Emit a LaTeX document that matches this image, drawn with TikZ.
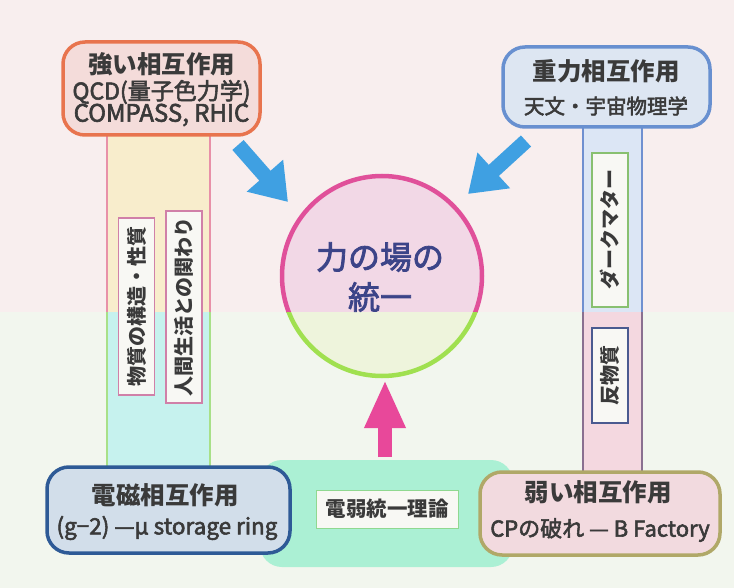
\documentclass[tikz,border=0pt]{standalone}
\usepackage{fontspec}
\newfontfamily\jp{Noto Sans CJK JP}
\newfontfamily\jpm{Noto Sans CJK JP}[FakeBold=2.5]
\usetikzlibrary{arrows.meta}
\definecolor{bgtop}{HTML}{F8EEEE}
\definecolor{bgbot}{HTML}{F2F6EE}
\definecolor{txt}{HTML}{3A3A3A}
\definecolor{unitxt}{HTML}{3C4488}
\definecolor{colyel}{HTML}{F8EDCC}
\definecolor{colcyan}{HTML}{C6F2EE}
\definecolor{colpinkline}{HTML}{E890A8}
\definecolor{colgreenline}{HTML}{A8E088}
\definecolor{colblue}{HTML}{DCE6F5}
\definecolor{colblueline}{HTML}{7090D0}
\definecolor{colpink}{HTML}{F4D8E0}
\definecolor{colpurpline}{HTML}{8A7090}
\definecolor{strongline}{HTML}{E8744E}
\definecolor{strongfill}{HTML}{F4DCDA}
\definecolor{gravline}{HTML}{6890D0}
\definecolor{gravfill}{HTML}{DDE6F2}
\definecolor{emline}{HTML}{2E5A96}
\definecolor{emfill}{HTML}{D2DEEA}
\definecolor{weakline}{HTML}{B0A868}
\definecolor{weakfill}{HTML}{F2DADF}
\definecolor{ewfill}{HTML}{ABF0D4}
\definecolor{ewlabline}{HTML}{90D890}
\definecolor{labfill}{HTML}{F8F8F4}
\definecolor{labpink}{HTML}{D080A8}
\definecolor{labgreen}{HTML}{88C070}
\definecolor{labblue}{HTML}{4A5A90}
\definecolor{unipink}{HTML}{E0509A}
\definecolor{unigreen}{HTML}{A0E050}
\definecolor{unifilltop}{HTML}{F2D8E6}
\definecolor{unifillbot}{HTML}{EEF4DC}
\definecolor{bluearrow}{HTML}{3FA0E2}
\definecolor{magarrow}{HTML}{E8489A}
\tikzset{
  ibox/.style={rounded corners=22pt, line width=3.5pt, align=center, inner sep=0pt, text=txt},
  vlab/.style={rotate=90, line width=1.2pt, fill=labfill, inner sep=0pt, minimum height=36pt, text=txt, font=\jp\bfseries\fontsize{20}{20}\selectfont},
  bluefat/.style={draw=bluearrow, line width=15pt, -{Triangle[length=35pt, width=46pt]}},
  magfat/.style={draw=magarrow, line width=14pt, -{Triangle[length=48pt, width=38pt]}},
  big/.style={text=txt, font=\jp\bfseries\fontsize{24.5}{26}\selectfont},
  sub/.style={text=txt, font=\jpm\fontsize{#1}{26}\selectfont}
}
\begin{document}
\begin{tikzpicture}[x=1pt, y=-1pt, font=\jp]
\useasboundingbox (0,0) rectangle (734,588);
\fill[bgtop] (0,0) rectangle (734,312);
\fill[bgbot] (0,312) rectangle (734,588);

% left column
\fill[colyel] (107,135) rectangle (210,312);
\fill[colcyan] (107,312) rectangle (210,467);
\draw[colpinkline, line width=1.2pt] (107,135) -- (107,312) (210,135) -- (210,312);
\draw[colgreenline, line width=1.2pt] (107,312) -- (107,467) (210,312) -- (210,467);
\node[vlab, draw=labpink, minimum width=177pt] (lab1) at (136.5,306.5) {物質の構造・性質};
\node[vlab, draw=labpink, minimum width=192pt] (lab2) at (184,307) {人間生活との関わり};

% right column
\fill[colblue] (583,128) rectangle (642,312);
\fill[colpink] (583,312) rectangle (642,472);
\draw[colblueline, line width=1.2pt] (583,128) -- (583,312) (642,128) -- (642,312);
\draw[colpurpline, line width=1.2pt] (583,312) -- (583,472) (642,312) -- (642,472);
\node[vlab, draw=labgreen, minimum width=154pt] (lab3) at (610,230) {ダークマター};
\node[vlab, draw=labblue, minimum width=95pt] (lab4) at (610,375.5) {反物質};

% central circle
\node[circle, minimum size=200pt, inner sep=0pt] (uni) at (382,276) {};
\begin{scope}
  \clip (270,160) rectangle (500,312);
  \fill[unifilltop] (uni.center) circle (100);
  \draw[unipink, line width=4.5pt] (uni.center) circle (100);
\end{scope}
\begin{scope}
  \clip (270,312) rectangle (500,390);
  \fill[unifillbot] (uni.center) circle (100);
  \draw[unigreen, line width=4.5pt] (uni.center) circle (100);
\end{scope}
\node[text=unitxt, font=\jpm\fontsize{32}{40}\selectfont, align=center] (unitext) at (380,277) {力の場の\\統一};

% electroweak box
\node[fill=ewfill, rounded corners=22pt, minimum width=253pt, minimum height=107pt, inner sep=0pt] (ew) at (386.5,513.5) {};
\node[draw=ewlabline, line width=1pt, fill=labfill, minimum width=142pt, minimum height=38pt, inner sep=0pt, text=txt, font=\jp\bfseries\fontsize{20.5}{21}\selectfont] (ewlab) at (387,509) {電弱統一理論};

% interaction boxes
\node[ibox, draw=strongline, fill=strongfill, minimum width=197pt, minimum height=93pt] (strong) at (161.5,88.5) {};
\node[big] (strong1) at (161.5,64) {強い相互作用};
\node[sub=23] (strong2) at (161.5,92) {QCD(量子色力学)};
\node[sub=24] (strong3) at (161.5,115) {COMPASS, RHIC};

\node[ibox, draw=gravline, fill=gravfill, minimum width=207pt, minimum height=80pt] (grav) at (606.5,87) {};
\node[big] (grav1) at (606,71) {重力相互作用};
\node[sub=20.5] (grav2) at (606,106) {天文・宇宙物理学};

\node[ibox, draw=emline, fill=emfill, minimum width=243pt, minimum height=86pt] (em) at (168.5,510) {};
\node[big] (em1) at (165,495) {電磁相互作用};
\node[sub=22.5] (em2) at (167,528) {(g−2) —µ storage ring};

\node[ibox, draw=weakline, fill=weakfill, minimum width=240pt, minimum height=83pt] (weak) at (600,513.5) {};
\node[big] (weak1) at (598,492) {弱い相互作用};
\node[sub=22] (weak2) at (600,530) {CPの破れ — B Factory};

% arrows
\coordinate (bl1) at (238,145);
\coordinate (bl1t) at (288,202);
\coordinate (bl2) at (526,141);
\coordinate (bl2t) at (468,194);
\coordinate (mg) at (385,457);
\coordinate (mgt) at (385,380);
\draw[bluefat] (bl1) -- (bl1t);
\draw[bluefat] (bl2) -- (bl2t);
\draw[magfat] (mg) -- (mgt);
\end{tikzpicture}
\end{document}
